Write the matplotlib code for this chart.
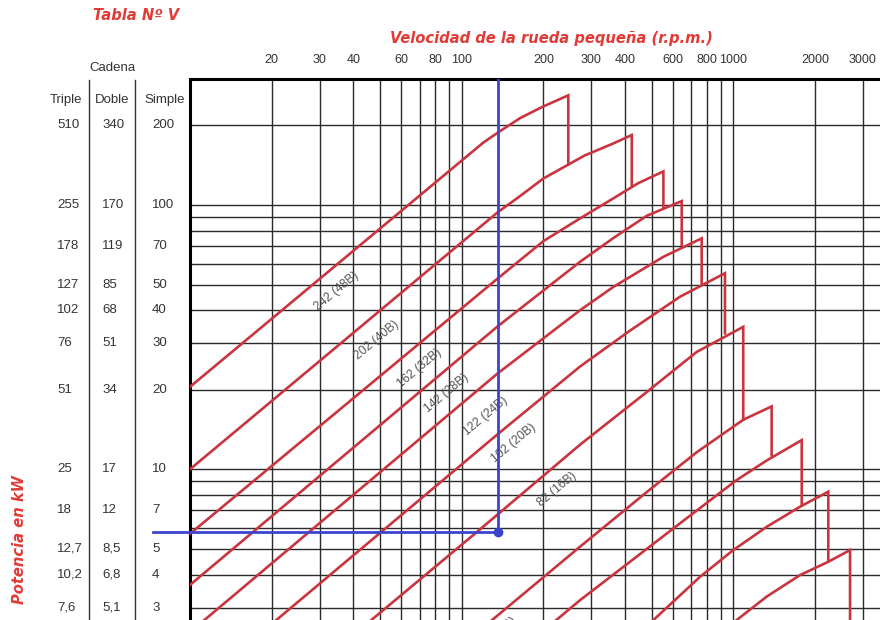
import matplotlib
matplotlib.use("Agg")
import matplotlib.pyplot as plt
import matplotlib.transforms as mtrans
from matplotlib.lines import Line2D
from matplotlib.ticker import NullLocator

plt.rcParams['font.family'] = ['Liberation Sans', 'DejaVu Sans']

# --- datos ---
rpm_grid = [20, 30, 40, 50, 60, 70, 80, 90, 100, 200, 300, 400, 500, 600,
            700, 800, 900, 1000, 2000, 3000, 4000]
kw_grid = [3, 4, 5, 6, 7, 8, 9, 10, 20, 30, 40, 50, 60, 70, 80, 90, 100, 200]
rpm_ticks = [20, 30, 40, 60, 80, 100, 200, 300, 400, 600, 800, 1000, 2000, 3000]

simple_kw = [200, 100, 70, 50, 40, 30, 20, 10, 7, 5, 4, 3]
doble_lbl = ['340', '170', '119', '85', '68', '51', '34', '17', '12', '8,5', '6,8', '5,1']
triple_lbl = ['510', '255', '178', '127', '102', '76', '51', '25', '18', '12,7', '10,2', '7,6']

rpm_48B = [10, 120, 136, 164, 198, 247, 247]
kw_48B = [20.5, 172, 188, 213, 235, 260, 143]
rpm_40B = [10, 136, 162, 200, 284, 362, 423, 423]
kw_40B = [10, 94, 107, 126, 154, 171, 184, 119]
rpm_32B = [10, 136, 200, 273, 362, 447, 553, 553]
kw_32B = [5.7, 52.8, 73, 89, 106, 121, 134, 98]
rpm_28B = [10, 136, 273, 362, 480, 646, 646]
kw_28B = [3.65, 34.8, 61, 75, 91, 103.5, 70.6]
rpm_24B = [10, 136, 273, 362, 553, 765, 765]
kw_24B = [2.42, 23.1, 40, 49, 63.7, 74.8, 50.5]
rpm_20B = [10, 136, 273, 417, 637, 932, 932]
kw_20B = [1.43, 13.6, 24.5, 33.5, 45, 55.2, 32.7]
rpm_16B = [10, 114, 273, 480, 733, 1088, 1088]
kw_16B = [0.72, 5.8, 12.4, 19.6, 27.8, 34.6, 15.4]
rpm_12B = [50, 273, 480, 733, 1088, 1384, 1384]
kw_12B = [1.19, 5.1, 8.2, 11.6, 15.4, 17.3, 11.3]
rpm_10B = [100, 273, 637, 1029, 1327, 1786, 1786]
kw_10B = [1.35, 3.2, 6.25, 9.11, 10.8, 12.9, 7.33]
rpm_08B = [200, 508, 754, 1000, 1327, 1760, 2237, 2237]
kw_08B = [1.24, 2.69, 3.92, 4.95, 6.06, 7.22, 8.23, 4.54]
rpm_06B = [300, 1029, 1327, 1760, 2237, 2690, 2690]
kw_06B = [0.93, 2.69, 3.3, 3.98, 4.47, 4.95, 2.0]

cadenas = ['242 (48B)', '202 (40B)', '162 (32B)', '142 (28B)', '122 (24B)',
           '102 (20B)', '82 (16B)', '62 (12B)']
# donde va cada rotulo (rpm, kW)
rot_rpm = [34.7, 48.9, 70.3, 88.1, 122.7, 155.9, 223.8, 135]
rot_kw = [47.0, 30.7, 24.1, 19.4, 15.9, 12.6, 8.42, 2.38]

ej_rpm = 136.5
ej_kw = 5.8

curvas = [(rpm_48B, kw_48B), (rpm_40B, kw_40B), (rpm_32B, kw_32B), (rpm_28B, kw_28B),
          (rpm_24B, kw_24B), (rpm_20B, kw_20B), (rpm_16B, kw_16B), (rpm_12B, kw_12B),
          (rpm_10B, kw_10B), (rpm_08B, kw_08B), (rpm_06B, kw_06B)]

rojo = '#c9343f'
rojo_txt = '#e23b36'
azul = '#3b45cc'
gris = '#333333'

W, H = 880, 620
fig = plt.figure(figsize=(8.8, 6.2), dpi=100)
ax = fig.add_axes([189.9 / W, (H - 654.1) / H, 733.3 / W, 575.2 / H])
ax.set_xscale('log')
ax.set_yscale('log')
ax.set_xlim(10, 5000)
ax.set_ylim(2, 300)

for v in rpm_grid:
    ax.axvline(v, color='#2a2a2a', lw=1.0, zorder=1)
for v in kw_grid:
    ax.axhline(v, color='#2a2a2a', lw=1.0, zorder=1)

for s in ['right', 'bottom']:
    ax.spines[s].set_visible(False)
for s in ['top', 'left']:
    ax.spines[s].set_linewidth(2.2)
    ax.spines[s].set_color('black')

for rpm, kw in curvas:
    ax.plot(rpm, kw, color=rojo, lw=1.9, zorder=3, solid_joinstyle='miter')

for txt, n, p in zip(cadenas, rot_rpm, rot_kw):
    ax.text(n, p, txt, rotation=40, rotation_mode='anchor', ha='center', va='center',
            fontsize=8.8, color='#555555', zorder=4)

# ejemplo de seleccion
ax.plot([ej_rpm, ej_rpm], [300, ej_kw], color=azul, lw=2.0, zorder=5)
ax.plot([7.32, ej_rpm], [ej_kw, ej_kw], color=azul, lw=2.0, zorder=5, clip_on=False)
ax.plot([ej_rpm], [ej_kw], 'o', color=azul, ms=6, zorder=6)

ax.xaxis.set_ticks_position('top')
ax.set_xticks(rpm_ticks, labels=[str(v) for v in rpm_ticks])
ax.xaxis.set_minor_locator(NullLocator())
ax.tick_params(axis='x', length=0, pad=9, labelsize=9, colors=gris)
ax.set_yticks([])
ax.yaxis.set_minor_locator(NullLocator())

# tabla de la izquierda
tr = mtrans.blended_transform_factory(fig.transFigure, ax.transData)
for kw, d, t in zip(simple_kw, doble_lbl, triple_lbl):
    ax.text(57 / W, kw, t, transform=tr, ha='left', va='center', fontsize=9.5, color=gris)
    ax.text(102 / W, kw, d, transform=tr, ha='left', va='center', fontsize=9.5, color=gris)
    ax.text(152 / W, kw, str(kw), transform=tr, ha='left', va='center', fontsize=9.5, color=gris)

for xc in [89, 135]:
    fig.add_artist(Line2D([xc / W, xc / W], [1 - 80 / H, 0], transform=fig.transFigure,
                          color=gris, lw=1.0))

fig.text(66 / W, 1 - 100 / H, 'Triple', ha='center', va='center', fontsize=9.5, color=gris)
fig.text(112.5 / W, 1 - 100 / H, 'Doble', ha='center', va='center', fontsize=9.5, color=gris)
fig.text(164.5 / W, 1 - 100 / H, 'Simple', ha='center', va='center', fontsize=9.5, color=gris)
fig.text(112 / W, 1 - 68 / H, 'Cadena', ha='center', va='center', fontsize=9.5, color=gris)

estilo = dict(color=rojo_txt, fontsize=10.6, fontweight='bold', fontstyle='italic',
              family='DejaVu Sans')
fig.text(93 / W, 1 - 15 / H, 'Tabla Nº V', ha='left', va='center', **estilo)
fig.text(551.5 / W, 1 - 38 / H, 'Velocidad de la rueda pequeña (r.p.m.)',
         ha='center', va='center', **estilo)
fig.text(20 / W, 1 - 540 / H, 'Potencia en kW', rotation=90, ha='center', va='center', **estilo)

fig.savefig('out.png', dpi=100)
